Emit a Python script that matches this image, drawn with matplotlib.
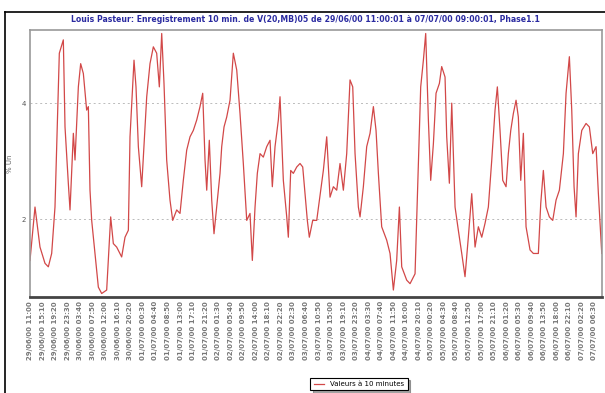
import matplotlib
matplotlib.use("Agg")
import matplotlib.pyplot as plt
from matplotlib.lines import Line2D
import pandas as pd

titre = "Louis Pasteur: Enregistrement 10 min. de V(20,MB)05 de 29/06/00 11:00:01 à 07/07/00 09:00:01, Phase1.1"
ylabel = "% Un"
legende = "Valeurs à 10 minutes"

# time in hours since 29/06/00 11:00
heures = [0, 1.66, 3.32, 4.98, 6.09, 7.2, 8.3, 8.86, 9.74, 11.07, 11.63, 12.73, 13.29, 14.4, 14.95,
          16.06, 16.83, 17.72, 18.82, 19.38, 19.93, 20.49, 21.59, 22.7, 23.81, 25.47, 26.02, 26.8,
          27.68, 28.79, 30.45, 31.56, 32.67, 33.22, 34.55, 35.21, 35.99, 37.1, 38.2, 38.77, 39.86,
          40.97, 42.08, 42.96, 43.75, 44.51, 45.4, 46.5, 47.4, 48.73, 49.83, 50.93, 52.05, 53.15,
          54.25, 55.38, 56.47, 57.37, 58.14, 58.7, 59.56, 60.36, 61.12, 62.02, 63.12, 63.68, 64.45,
          65.34, 66.44, 67.54, 68.67, 69.76, 70.86, 71.99, 73.08, 73.85, 74.75, 75.51, 76.41, 77.5,
          78.63, 79.73, 80.49, 81.39, 82.49, 83.05, 84.15, 85.28, 85.81, 86.6, 87.47, 88.6, 89.69,
          90.59, 91.36, 92.12, 92.78, 93.91, 95.24,
          97.44, 98.56, 99.66, 100.77, 101.88, 102.98, 104.09, 105.2, 106.3, 107.2, 107.97, 109.07,
          109.63, 110.73, 111.84, 112.95, 114.06, 114.94, 115.72, 116.82, 118.48, 119.59, 120.7,
          121.8, 122.7, 123.47, 125.13, 126.24, 127.9, 129.0, 129.78, 130.67, 131.44, 132.33, 133.1,
          133.99, 134.87, 135.99, 136.75, 137.86, 138.42, 139.3, 140.09, 141.19, 142.28, 143.41,
          144.5, 145.6, 146.73, 147.83, 148.93, 150.06, 151.15, 152.25, 153.38, 154.47, 155.24,
          156.13, 157.03, 158.13, 158.89, 159.69, 160.55, 161.45, 162.21, 163.01, 163.88, 164.77,
          166.1, 167.2, 168.86, 169.65, 170.52, 171.42, 172.51, 173.64, 174.74, 175.84, 177.17,
          178.06, 179.16, 179.95, 180.72, 181.38, 182.15, 183.28, 184.7, 185.8, 186.93, 188.03,
          188.8, 189.92]
valeurs = [1.29, 2.21, 1.52, 1.24, 1.18, 1.41, 2.21, 3.25, 4.86, 5.09, 3.59, 2.62, 2.16, 3.48, 3.02,
           4.28, 4.68, 4.51, 3.88, 3.94, 2.5, 1.98, 1.41, 0.83, 0.72, 0.78, 1.29, 2.04,
           1.58, 1.52, 1.35, 1.69, 1.81, 3.42, 4.74, 4.28, 3.25, 2.56, 3.59, 4.11, 4.68,
           4.97, 4.86, 4.28, 5.2, 4.34, 3.02, 2.33, 1.98, 2.16, 2.1, 2.67, 3.19, 3.42,
           3.53, 3.71, 3.94, 4.17, 3.02, 2.5, 3.36, 2.33, 1.75, 2.21, 2.79, 3.25, 3.59,
           3.76, 4.05, 4.86, 4.57, 3.82, 2.96, 1.98, 2.1, 1.29, 2.21, 2.79, 3.13, 3.07,
           3.25, 3.36, 2.56, 3.25, 3.71, 4.11, 2.67, 2.04, 1.69, 2.84, 2.79, 2.9, 2.96,
           2.9, 2.44, 1.98, 1.69, 1.98, 1.98,
           2.84, 3.42, 2.38, 2.56, 2.5, 2.96, 2.5, 3.13, 4.4, 4.28, 3.13, 2.21,
           2.04, 2.56, 3.25, 3.48, 3.94, 3.53, 2.79, 1.87, 1.64, 1.41, 0.78,
           1.29, 2.21, 1.18, 0.95, 0.89, 1.06, 2.96, 4.28, 4.74, 5.2, 3.71, 2.67,
           3.3, 4.17, 4.34, 4.63, 4.45, 3.42, 2.62, 4.0, 2.21, 1.81, 1.41,
           1.01, 1.69, 2.44, 1.52, 1.87, 1.69, 1.93, 2.21, 3.02, 3.88, 4.28,
           3.53, 2.67, 2.56, 3.13, 3.53, 3.82, 4.05, 3.76, 2.67, 3.48, 1.87,
           1.47, 1.41, 1.41, 2.27, 2.84, 2.21, 2.04, 1.98, 2.33, 2.5, 3.13,
           4.17, 4.8, 3.88, 2.56, 2.04, 3.13, 3.53, 3.65, 3.59, 3.13, 3.25,
           2.44, 1.41]

debut = pd.Timestamp("2000-06-29 11:00")
tick_dates = pd.date_range(debut, periods=46, freq="250min")
tick_pos = [(d - debut).total_seconds() / 3600 for d in tick_dates]
tick_labels = [d.strftime("%d/%m/%y %H:%M") for d in tick_dates]

W, H = 605, 393
fig = plt.figure(figsize=(W / 100, H / 100), dpi=100)
fig.patch.set_facecolor("white")

# outer frame lines
fig.add_artist(Line2D([5 / W, 5 / W], [0, 1 - 12 / H], color="black", lw=1.2))
fig.add_artist(Line2D([5 / W, 1], [1 - 12 / H, 1 - 12 / H], color="black", lw=1.2))

ax = fig.add_axes([30 / W, 1 - 297 / H, (602 - 30) / W, (297 - 30) / H])
ax.plot(heures, valeurs, color="#d24848", lw=0.9, label=legende)
ax.set_xlim(0, 190)
ax.set_ylim(0.66, 5.26)
ax.set_yticks([2, 4])
ax.set_yticklabels(["2", "4"], fontsize=5, color="#555555")
ax.yaxis.grid(True, linestyle=(0, (2, 3)), color="#bbbbbb", lw=0.7)
ax.set_xticks(tick_pos)
ax.set_xticklabels(tick_labels, rotation=90, fontsize=5, color="#777777", fontweight="bold")
ax.tick_params(axis="both", length=0, pad=3)
ax.set_ylabel(ylabel, fontsize=5, color="#666666", labelpad=6)
for s in ["left", "top", "right"]:
    ax.spines[s].set_color("#999999")
    ax.spines[s].set_linewidth(1.2)
ax.spines["bottom"].set_color("#444444")
ax.spines["bottom"].set_linewidth(2)

fig.text(305 / W, 1 - 19 / H, titre, ha="center", va="center", fontsize=5.6,
         fontweight="bold", color="#2a2aa0")

leg = ax.legend(loc="center", bbox_to_anchor=(359 / W, 1 - 384 / H), bbox_transform=fig.transFigure,
                fontsize=5, frameon=True, fancybox=False, shadow=True, edgecolor="black",
                handlelength=1.5, borderpad=0.5)
leg.get_frame().set_linewidth(0.8)

fig.savefig("out.png", dpi=100)
